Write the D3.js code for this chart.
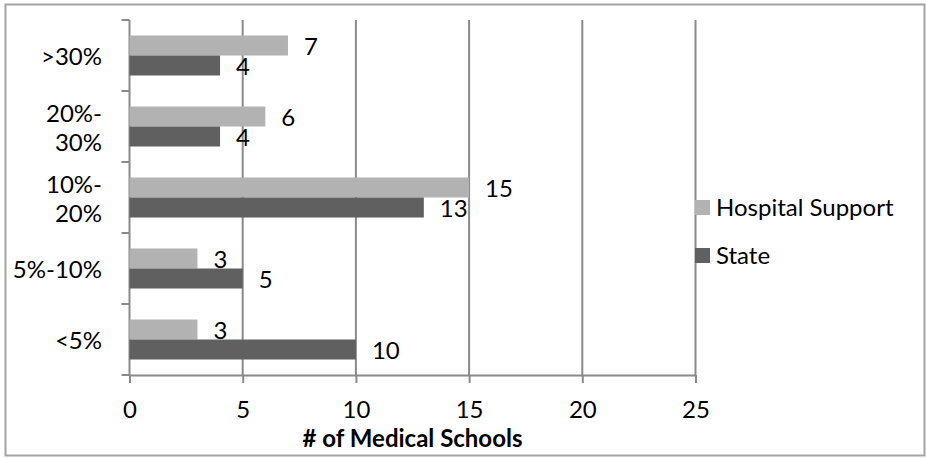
<!DOCTYPE html>
<html><head><meta charset="utf-8">
<script src="https://cdn.jsdelivr.net/npm/d3@7"></script>
<style>
body{margin:0;background:#fff}
svg{display:block}
text{font-family:Lato,"Open Sans",sans-serif;fill:#000}
</style>
</head><body>
<svg id="chart" width="926" height="458"></svg>
<script>
// Share of funding categories (top to bottom) and their printed line breaks
const categories = [">30%", "20%-30%", "10%-20%", "5%-10%", "<5%"];
const categoryLines = [[">30%"], ["20%-", "30%"], ["10%-", "20%"], ["5%-10%"], ["<5%"]];
const seriesNames = ["Hospital Support", "State"];
const hospitalSupport = [7, 6, 15, 3, 3];
const state = [4, 4, 13, 5, 10];
const xTicks = [0, 5, 10, 15, 20, 25];
const seriesColors = ["#b2b2b2", "#606060"];

const seriesValues = [hospitalSupport, state];
const svg = d3.select("#chart");
const fontSize = 24;
const gridColor = "#8a8a8a";

// outer frame
svg.append("rect").attr("x", 5.5).attr("y", 4.5).attr("width", 919).attr("height", 451)
  .attr("fill", "#fff").attr("stroke", "#a3a3a3").attr("stroke-width", 2);

const plot = {left: 129.5, right: 695.5, top: 20, bottom: 375};
const x = d3.scaleLinear().domain([0, 25]).range([plot.left, plot.right]);
const pad = 31 / 71;
const y = d3.scaleBand().domain(categories).range([plot.top, plot.bottom])
  .paddingInner(pad).paddingOuter(pad / 2);
const ySub = d3.scaleBand().domain(seriesNames).range([0, y.bandwidth()]);
const color = d3.scaleOrdinal().domain(seriesNames).range(seriesColors);

// vertical gridlines
svg.append("g").selectAll("line").data(xTicks.filter(t => t > 0)).join("line")
  .attr("x1", d => x(d)).attr("x2", d => x(d))
  .attr("y1", plot.top).attr("y2", plot.bottom)
  .attr("stroke", gridColor).attr("stroke-width", 2);

// bottom axis
const xAxis = svg.append("g").attr("transform", `translate(0,${plot.bottom})`)
  .call(d3.axisBottom(x).tickValues(xTicks).tickSize(8).tickPadding(18).tickSizeOuter(0));
xAxis.select(".domain").attr("stroke", gridColor).attr("stroke-width", 2);
xAxis.selectAll(".tick line").attr("stroke", gridColor).attr("stroke-width", 2);
xAxis.selectAll(".tick text").style("font-family", "Lato, sans-serif").style("font-size", fontSize + "px").attr("fill", "#000");

// left axis line with ticks at category boundaries
const step = y.step();
const boundaries = categories.map(c => y(c) - step * pad / 2).concat([plot.bottom]);
const yAxis = svg.append("g");
yAxis.append("line").attr("x1", plot.left).attr("x2", plot.left)
  .attr("y1", plot.top).attr("y2", plot.bottom).attr("stroke", gridColor).attr("stroke-width", 2);
yAxis.selectAll("line.tk").data(boundaries).join("line").attr("class", "tk")
  .attr("x1", plot.left - 8).attr("x2", plot.left)
  .attr("y1", d => d).attr("y2", d => d).attr("stroke", gridColor).attr("stroke-width", 2);

// category labels
const lineGap = 29;
svg.append("g").selectAll("text").data(categories).join("text")
  .attr("text-anchor", "end").style("font-size", fontSize + "px")
  .each(function(c, i) {
    const lines = categoryLines[i];
    const cy = y(c) + y.bandwidth() / 2 + 1;
    d3.select(this).selectAll("tspan").data(lines).join("tspan")
      .attr("x", 102)
      .attr("y", (l, j) => cy + (j - (lines.length - 1) / 2) * lineGap)
      .attr("dy", "0.36em")
      .text(l => l);
  });

// bars and value labels
seriesNames.forEach((name, s) => {
  const g = svg.append("g");
  const rows = categories.map((c, i) => ({c, v: seriesValues[s][i]}));
  g.selectAll("rect").data(rows).join("rect")
    .attr("x", x(0)).attr("y", d => y(d.c) + ySub(name))
    .attr("width", d => x(d.v) - x(0)).attr("height", ySub.bandwidth())
    .attr("fill", color(name));
  g.selectAll("text").data(rows).join("text")
    .attr("x", d => x(d.v) + 16)
    .attr("y", d => y(d.c) + ySub(name) + ySub.bandwidth() / 2 + 1)
    .attr("dy", "0.36em").style("font-size", fontSize + "px")
    .text(d => d.v);
});

// legend
const legend = svg.append("g").selectAll("g").data(seriesNames).join("g")
  .attr("transform", (d, i) => `translate(695,${200 + i * 48})`);
legend.append("rect").attr("width", 15).attr("height", 15).attr("fill", d => color(d));
legend.append("text").attr("x", 21).attr("y", 7.5).attr("dy", "0.36em")
  .style("font-size", fontSize + "px").text(d => d);

// axis title
svg.append("text").attr("x", (plot.left + plot.right) / 2).attr("y", 447)
  .attr("text-anchor", "middle").style("font-size", fontSize + "px").style("font-weight", "bold")
  .text("# of Medical Schools");
</script>
</body></html>
